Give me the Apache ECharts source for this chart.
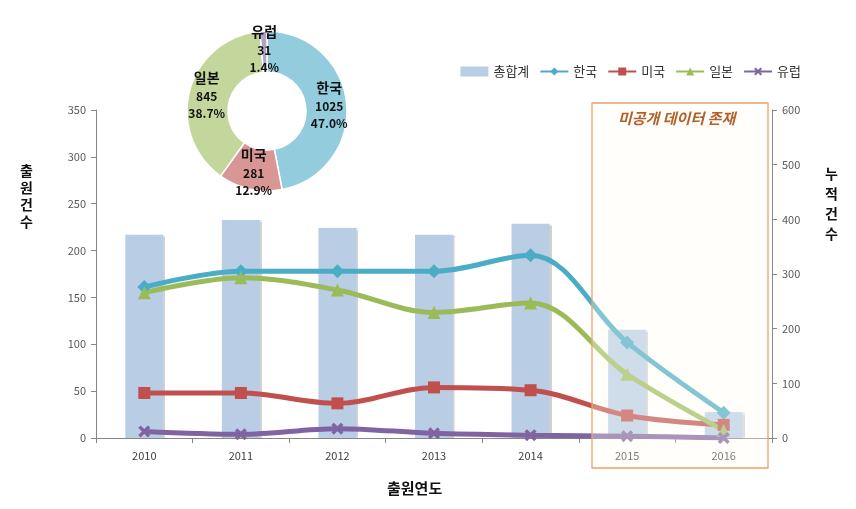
<!DOCTYPE html>
<html><head><meta charset="utf-8">
<script src="https://cdn.jsdelivr.net/npm/echarts@6/dist/echarts.min.js"></script>
<style>html,body{margin:0;padding:0;background:#fff}#c{width:856px;height:509px}</style>
</head><body><div id="c"></div>
<script>
const years = ['2010','2011','2012','2013','2014','2015','2016'];
const totals = [372, 399, 384, 372, 392, 198, 47];
const korea = [161, 178, 178, 178, 195, 102, 27];
const usa = [48, 48, 37, 54, 51, 24, 14];
const japan = [155, 171, 158, 134, 144, 68, 8];
const europe = [7, 4, 10, 5, 3, 2, 0];
const pieNames = ['한국', '미국', '일본', '유럽'];
const pieValues = [1025, 281, 845, 31];
const leftTicks = [0, 350, 50];
const rightTicks = [0, 600, 100];

const FONT = '"Noto Sans CJK KR", "Noto Sans", sans-serif';
const chart = echarts.init(document.getElementById('c'));
const xShape = 'path://M2,0 L5,3 L8,0 L10,2 L7,5 L10,8 L8,10 L5,7 L2,10 L0,8 L3,5 L0,2 Z';
const pieColors = ['#93cddd', '#d99694', '#c3d69b', '#b3a2c7'];
const pieTotal = pieValues.reduce((a, b) => a + b, 0);

function lineSeries(name, data, color, symbol, size) {
  return {
    name, type: 'line', data, smooth: 0.35, yAxisIndex: 0, z: 3,
    symbol, symbolSize: size,
    lineStyle: { color, width: 5 },
    itemStyle: { color },
    emphasis: { disabled: true }
  };
}

chart.setOption({
  animation: false,
  textStyle: { fontFamily: FONT },
  grid: { left: 96, right: 84, top: 110, bottom: 71 },
  legend: {
    right: 50, top: 60, itemWidth: 28, itemHeight: 10, itemGap: 10,
    textStyle: { fontFamily: FONT, fontSize: 13, color: '#333' },
    data: [
      { name: '총합계', icon: 'rect' },
      { name: '한국' }, { name: '미국' }, { name: '일본' }, { name: '유럽' }
    ]
  },
  xAxis: {
    type: 'category', data: years, boundaryGap: true,
    axisLine: { lineStyle: { color: '#868686' } },
    axisTick: { show: true, lineStyle: { color: '#868686' } },
    axisLabel: { color: '#404040', fontSize: 11, margin: 12, fontFamily: FONT }
  },
  yAxis: [
    {
      type: 'value', min: leftTicks[0], max: leftTicks[1], interval: leftTicks[2],
      axisLine: { show: true, lineStyle: { color: '#868686' } },
      axisTick: { show: true, lineStyle: { color: '#868686' } },
      splitLine: { show: false },
      axisLabel: { color: '#595959', fontSize: 11, margin: 10, fontFamily: FONT }
    },
    {
      type: 'value', position: 'right', min: rightTicks[0], max: rightTicks[1], interval: rightTicks[2],
      axisLine: { show: true, lineStyle: { color: '#868686' } },
      axisTick: { show: true, lineStyle: { color: '#868686' } },
      splitLine: { show: false },
      axisLabel: { color: '#595959', fontSize: 11, margin: 10, fontFamily: FONT }
    }
  ],
  series: [
    {
      name: '총합계', type: 'bar', data: totals, yAxisIndex: 1, barWidth: 38, z: 1,
      itemStyle: { color: '#b9cde5', shadowColor: 'rgba(0,0,0,0.18)', shadowOffsetX: 2, shadowBlur: 1 },
      emphasis: { disabled: true }
    },
    lineSeries('한국', korea, '#4bacc6', 'diamond', 14),
    lineSeries('미국', usa, '#c0504d', 'rect', 12),
    lineSeries('일본', japan, '#9bbb59', 'triangle', 13),
    lineSeries('유럽', europe, '#8064a2', xShape, 12),
    {
      type: 'pie', name: 'share', center: [267, 111], radius: [39, 80],
      startAngle: 90, clockwise: true, z: 10,
      itemStyle: { borderColor: '#fff', borderWidth: 1.5 },
      emphasis: { disabled: true },
      label: {
        position: 'inside', color: '#111', lineHeight: 17,
        formatter: p => '{n|' + p.name + '}\n{v|' + p.value + '}\n{v|' + (p.value / pieTotal * 100).toFixed(1) + '%}',
        rich: {
          n: { fontSize: 14, fontWeight: 'bold', color: '#111', fontFamily: FONT, lineHeight: 20 },
          v: { fontSize: 12, fontWeight: 'bold', color: '#111', fontFamily: FONT, lineHeight: 17 }
        }
      },
      data: pieNames.map((n, i) => ({
        name: n, value: pieValues[i], itemStyle: { color: pieColors[i] }
      }))
    }
  ],
  graphic: [
    {
      type: 'rect', z: 50, silent: true,
      shape: { x: 592, y: 103, width: 176, height: 365 },
      style: { fill: 'rgba(255,251,243,0.32)', stroke: '#e8a36e', lineWidth: 1.3 }
    },
    {
      type: 'text', z: 51, left: 618, top: 111,
      style: { text: '미공개 데이터 존재', fill: '#b0622a', font: 'italic bold 15px ' + FONT }
    },
    {
      type: 'text', z: 51, left: 20, top: 162,
      style: { text: '출\n원\n건\n수', fill: '#111', font: 'bold 14px ' + FONT, lineHeight: 17, align: 'center' }
    },
    {
      type: 'text', z: 51, left: 825, top: 164,
      style: { text: '누\n적\n건\n수', fill: '#111', font: 'bold 14px ' + FONT, lineHeight: 20, align: 'center' }
    },
    {
      type: 'text', z: 51, left: 387, top: 481,
      style: { text: '출원연도', fill: '#111', font: 'bold 15px ' + FONT }
    }
  ]
});
</script></body></html>
